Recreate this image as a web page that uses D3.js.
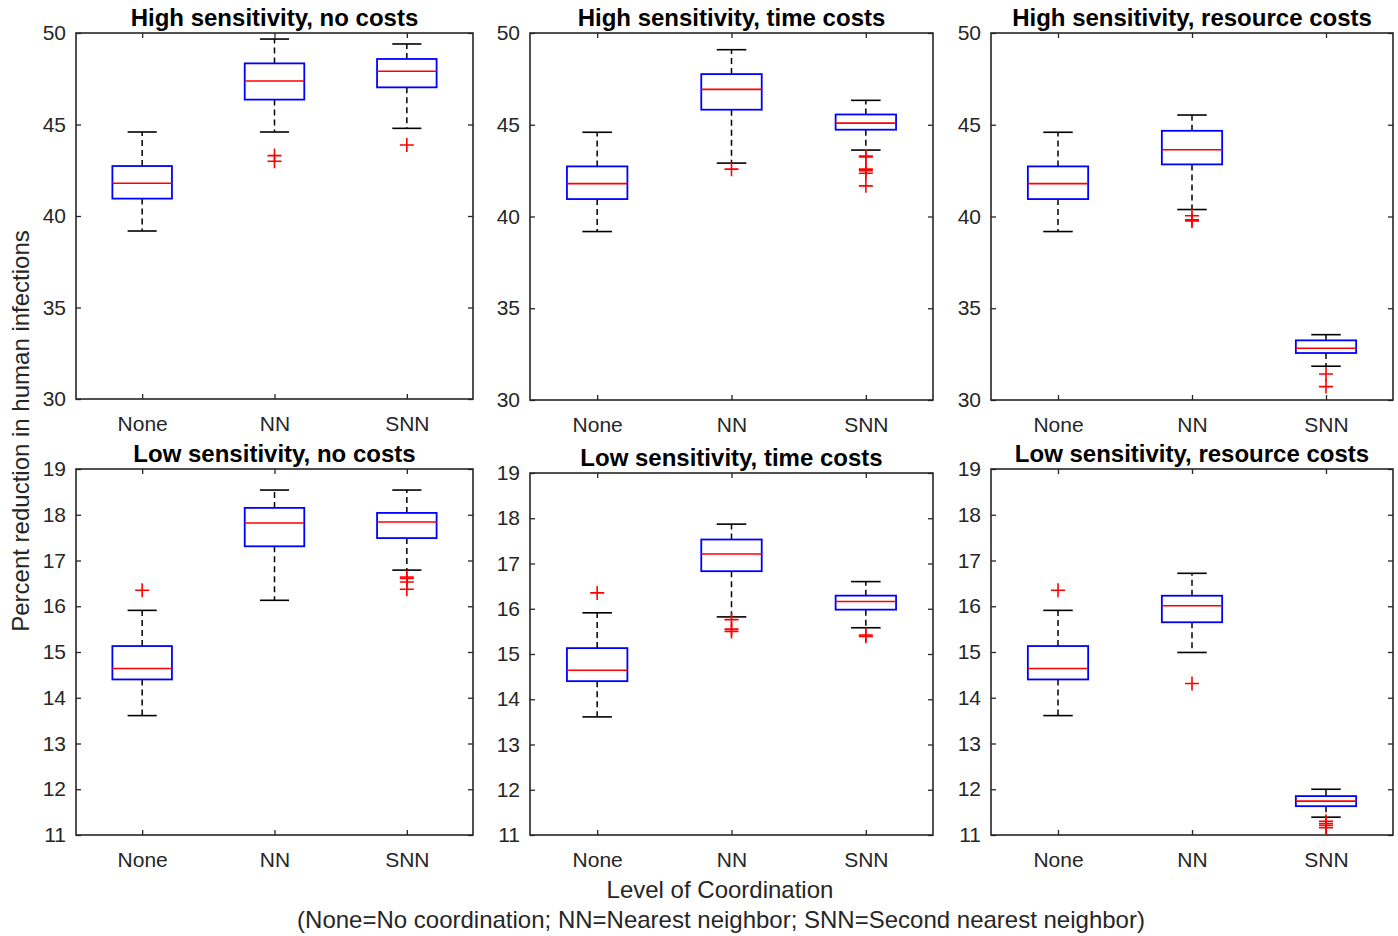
<!DOCTYPE html>
<html>
<head>
<meta charset="utf-8">
<script src="https://cdn.jsdelivr.net/npm/d3@7"></script>
<style>
  body { margin: 0; background: #fff; }
  svg { font-family: "Liberation Sans", Arial, sans-serif; }
</style>
</head>
<body>
<div id="chart"></div>
<script>
const categories = ["None", "NN", "SNN"];
const panelTitles = [
  "High sensitivity, no costs",
  "High sensitivity, time costs",
  "High sensitivity, resource costs",
  "Low sensitivity, no costs",
  "Low sensitivity, time costs",
  "Low sensitivity, resource costs",
];
const highTicks = [30, 35, 40, 45, 50];
const lowTicks = [11, 12, 13, 14, 15, 16, 17, 18, 19];

// box stats: [lower whisker, q1, median, q3, upper whisker], plus outliers
const hsNoCosts = [
  { cat: "None", stats: [39.18, 40.95, 41.79, 42.73, 44.59], out: [] },
  { cat: "NN", stats: [44.59, 46.36, 47.38, 48.34, 49.67], out: [43.3, 42.99] },
  { cat: "SNN", stats: [44.79, 47.03, 47.91, 48.58, 49.4], out: [43.88] },
];
const hsTimeCosts = [
  { cat: "None", stats: [39.18, 40.95, 41.79, 42.73, 44.59], out: [] },
  { cat: "NN", stats: [42.91, 45.82, 46.93, 47.76, 49.09], out: [42.58] },
  { cat: "SNN", stats: [43.62, 44.73, 45.09, 45.56, 46.33], out: [43.3, 43.25, 42.58, 42.5, 42.36, 41.67] },
];
const hsResourceCosts = [
  { cat: "None", stats: [39.18, 40.95, 41.79, 42.73, 44.59], out: [] },
  { cat: "NN", stats: [40.38, 42.84, 43.64, 44.67, 45.53], out: [40.04, 39.82, 39.76] },
  { cat: "SNN", stats: [31.84, 32.56, 32.82, 33.25, 33.56], out: [31.42, 30.73] },
];
const lsNoCosts = [
  { cat: "None", stats: [13.61, 14.4, 14.64, 15.13, 15.91], out: [16.35] },
  { cat: "NN", stats: [16.13, 17.31, 17.82, 18.15, 18.54], out: [] },
  { cat: "SNN", stats: [16.79, 17.49, 17.84, 18.04, 18.54], out: [16.64, 16.61, 16.53, 16.37] },
];
const lsTimeCosts = [
  { cat: "None", stats: [13.61, 14.4, 14.64, 15.13, 15.91], out: [16.35] },
  { cat: "NN", stats: [15.82, 16.83, 17.21, 17.53, 17.87], out: [15.76, 15.55, 15.5] },
  { cat: "SNN", stats: [15.58, 15.98, 16.16, 16.29, 16.6], out: [15.42, 15.39] },
];
const lsResourceCosts = [
  { cat: "None", stats: [13.61, 14.4, 14.64, 15.13, 15.91], out: [16.35] },
  { cat: "NN", stats: [14.99, 15.65, 16.01, 16.23, 16.72], out: [14.31] },
  { cat: "SNN", stats: [11.39, 11.63, 11.74, 11.85, 12.0], out: [11.3, 11.25, 11.21, 11.16] },
];

const panelData = [hsNoCosts, hsTimeCosts, hsResourceCosts, lsNoCosts, lsTimeCosts, lsResourceCosts];

// panel frames in page pixels
const frames = [
  { x0: 76, x1: 473, y0: 33, y1: 399 },
  { x0: 530, x1: 933, y0: 33, y1: 400 },
  { x0: 991, x1: 1393, y0: 33, y1: 400 },
  { x0: 76, x1: 473, y0: 469, y1: 835 },
  { x0: 530, x1: 933, y0: 473, y1: 835 },
  { x0: 991, x1: 1393, y0: 469, y1: 835 },
];

const width = 1398;
const height = 936;
const axisColor = "#262626";

const svg = d3.select("#chart").append("svg")
  .attr("width", width)
  .attr("height", height);

function drawPanel(i) {
  const f = frames[i];
  const data = panelData[i];
  const ticks = i < 3 ? highTicks : lowTicks;
  const w = f.x1 - f.x0;
  const h = f.y1 - f.y0;

  const x = d3.scalePoint().domain(categories).range([0, w]).padding(0.5);
  const y = d3.scaleLinear().domain(d3.extent(ticks)).range([h, 0]);
  const step = x.step();
  const boxHalf = step * 0.225;
  const capHalf = step * 0.11;

  const g = svg.append("g").attr("transform", `translate(${f.x0},${f.y0})`);

  // axes
  const left = g.append("g").call(d3.axisLeft(y).tickValues(ticks).tickSize(-5).tickPadding(10).tickFormat(d3.format("d")));
  const right = g.append("g").attr("transform", `translate(${w},0)`)
    .call(d3.axisRight(y).tickValues(ticks).tickSize(-5).tickFormat(""));
  const bottom = g.append("g").attr("transform", `translate(0,${h})`)
    .call(d3.axisBottom(x).tickSize(-5).tickPadding(13));
  const top = g.append("g").call(d3.axisTop(x).tickSize(-5).tickFormat(""));

  [left, right, bottom, top].forEach((a) => {
    a.select(".domain").remove();
    a.selectAll("line").attr("stroke", axisColor).attr("stroke-width", 1.3);
    a.selectAll("text").attr("fill", axisColor).style("font-size", "21px");
  });
  bottom.selectAll("text").attr("dy", "0.9em");

  g.append("rect")
    .attr("width", w).attr("height", h)
    .attr("fill", "none")
    .attr("stroke", axisColor)
    .attr("stroke-width", 1.6);

  const boxes = g.selectAll("g.box").data(data).join("g")
    .attr("class", "box")
    .attr("transform", (d) => `translate(${x(d.cat)},0)`);

  // whiskers
  boxes.append("line")
    .attr("y1", (d) => y(d.stats[3])).attr("y2", (d) => y(d.stats[4]))
    .attr("stroke", "#000").attr("stroke-width", 1.5).attr("stroke-dasharray", "6,4");
  boxes.append("line")
    .attr("y1", (d) => y(d.stats[1])).attr("y2", (d) => y(d.stats[0]))
    .attr("stroke", "#000").attr("stroke-width", 1.5).attr("stroke-dasharray", "6,4");
  [0, 4].forEach((k) => {
    boxes.append("line")
      .attr("x1", -capHalf).attr("x2", capHalf)
      .attr("y1", (d) => y(d.stats[k])).attr("y2", (d) => y(d.stats[k]))
      .attr("stroke", "#000").attr("stroke-width", 1.6);
  });

  boxes.append("rect")
    .attr("x", -boxHalf).attr("width", boxHalf * 2)
    .attr("y", (d) => y(d.stats[3]))
    .attr("height", (d) => y(d.stats[1]) - y(d.stats[3]))
    .attr("fill", "#fff")
    .attr("stroke", "#0000ff").attr("stroke-width", 1.8);

  boxes.append("line")
    .attr("x1", -boxHalf).attr("x2", boxHalf)
    .attr("y1", (d) => y(d.stats[2])).attr("y2", (d) => y(d.stats[2]))
    .attr("stroke", "#ff0000").attr("stroke-width", 1.6);

  // outliers
  boxes.selectAll("path.out").data((d) => d.out).join("path")
    .attr("class", "out")
    .attr("d", (v) => `M-7,${y(v)}H7M0,${y(v) - 7}V${y(v) + 7}`)
    .attr("stroke", "#ff0000").attr("stroke-width", 1.6).attr("fill", "none");

  g.append("text")
    .attr("x", w / 2).attr("y", -7)
    .attr("text-anchor", "middle")
    .style("font-size", "24px").style("font-weight", "bold")
    .attr("fill", "#000")
    .text(panelTitles[i]);
}

d3.range(6).forEach(drawPanel);

svg.append("text")
  .attr("transform", "translate(29,431) rotate(-90)")
  .attr("text-anchor", "middle")
  .attr("fill", axisColor)
  .style("font-size", "24px")
  .text("Percent reduction in human infections");

svg.append("text")
  .attr("x", 720).attr("y", 898)
  .attr("text-anchor", "middle")
  .attr("fill", axisColor)
  .style("font-size", "24px")
  .text("Level of Coordination");

svg.append("text")
  .attr("x", 721).attr("y", 928)
  .attr("text-anchor", "middle")
  .attr("fill", axisColor)
  .style("font-size", "24px")
  .text("(None=No coordination; NN=Nearest neighbor; SNN=Second nearest neighbor)");
</script>
</body>
</html>
